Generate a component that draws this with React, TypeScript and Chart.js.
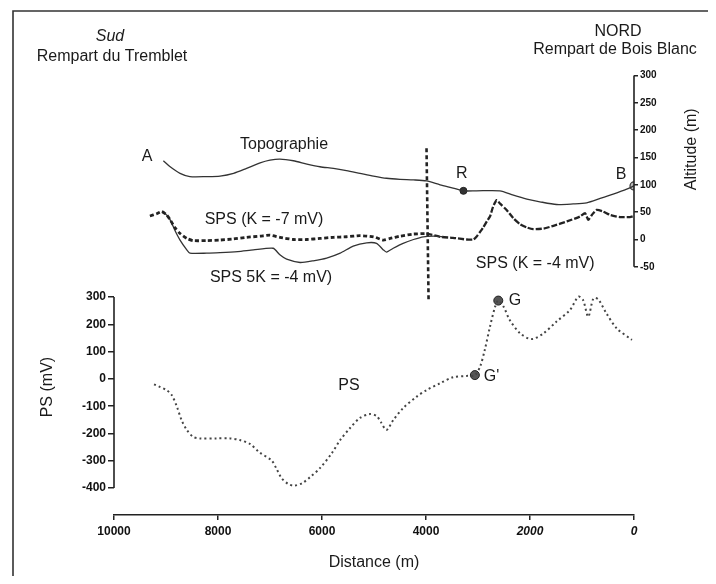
import React, { useEffect, useRef } from "react";
import { Chart, registerables } from "chart.js";

Chart.register(...registerables);

const FONT = "'Liberation Sans', Arial, Helvetica, sans-serif";

// Axis ticks
const xTicks = [10000, 8000, 6000, 4000, 2000, 0];
const psTicks = [300, 200, 100, 0, -100, -200, -300, -400];
const altTicks = [300, 250, 200, 150, 100, 50, 0, -50];

// Topographie (distance m, altitude m)
const topoDist = [9050, 8920, 8730, 8540, 8220, 7960, 7700, 7450, 7190, 7000, 6810, 6550, 6290, 6040, 5780, 5530, 5270, 5010, 4760, 4500, 4240, 3990, 3730, 3480, 3280, 3030, 2580, 2320, 2060, 1810, 1490, 1170, 910, 650, 400, 140, 0];
const topoAlt = [144, 133, 121, 115, 115, 116, 121, 130, 140, 145, 147, 144, 138, 133, 130, 126, 121, 116, 112, 110, 109, 107, 100, 94, 89, 89, 89, 81, 74, 69, 64, 65, 67, 75, 83, 92, 98];

// SPS (K = -7 mV)
const spsK7Dist = [9310, 9180, 9080, 8990, 8920, 8830, 8730, 8600, 8480, 8220, 7960, 7700, 7450, 7190, 7000, 6810, 6550, 6290, 6040, 5780, 5530, 5270, 5010, 4820, 4690, 4500, 4240, 3990];
const spsK7Alt = [43, 47, 51, 45, 36, 22, 11, 2, -2, -2, -1, 1, 4, 6, 8, 4, 0, 0, 2, 4, 5, 7, 5, -1, 2, 6, 10, 11];

// SPS 5K = -4 mV
const sps5KDist = [9080, 8990, 8920, 8830, 8730, 8600, 8540, 8220, 7960, 7620, 7320, 6940, 6810, 6680, 6420, 6170, 5910, 5650, 5400, 5140, 4950, 4820, 4760, 4630, 4440, 4240, 4050, 3860, 3670];
const sps5KAlt = [51, 45, 36, 17, -1, -19, -25, -25, -24, -22, -19, -16, -28, -36, -42, -39, -34, -25, -12, -6, -7, -19, -23, -16, -7, 0, 5, 6, 5];

// SPS (K = -4 mV)
const spsK4Dist = [3990, 3730, 3480, 3220, 3090, 3030, 2960, 2900, 2830, 2770, 2710, 2640, 2580, 2450, 2320, 2190, 2060, 1940, 1740, 1550, 1290, 1040, 940, 880, 810, 720, 590, 460, 270, 80, 0];
const spsK4Alt = [11, 5, 3, 0, 0, 5, 14, 22, 33, 42, 60, 72, 66, 54, 39, 28, 22, 19, 20, 25, 33, 42, 48, 36, 45, 54, 51, 45, 41, 41, 43];

// PS (mV)
const psDist = [9230, 9120, 8990, 8890, 8790, 8700, 8600, 8480, 8350, 8030, 7770, 7580, 7380, 7210, 6970, 6880, 6780, 6650, 6540, 6380, 6230, 6040, 5810, 5650, 5460, 5270, 5080, 4950, 4870, 4760, 4630, 4440, 4180, 3990, 3730, 3480, 3220, 3060, 2960, 2870, 2770, 2670, 2610, 2510, 2390, 2190, 1970, 1740, 1490, 1230, 1070, 980, 880, 780, 690, 530, 330, 40];
const psVal = [-20, -29, -41, -59, -102, -151, -187, -212, -218, -218, -218, -224, -239, -268, -299, -327, -363, -385, -391, -382, -360, -327, -272, -224, -180, -143, -129, -136, -158, -187, -151, -107, -65, -41, -16, 6, 11, 14, 45, 106, 191, 265, 287, 265, 216, 167, 146, 167, 210, 253, 301, 289, 228, 295, 292, 240, 185, 143];

// Vertical dashed divider (altitude axis units)
const dividerDist = [3990, 3950];
const dividerAlt = [167, -114];

// Marked points
const rPoint = [3280, 89];
const bPoint = [0, 98];
const gPoint = [2610, 287];
const gPrimePoint = [3060, 14];

// Text labels anchored on data coordinates
const altLabelText = ["A", "Topographie", "SPS (K = -7 mV)", "SPS 5K = -4 mV)", "R", "B", "SPS (K = -4 mV)"];
const altLabelDist = [9365, 6730, 7115, 6980, 3310, 250, 1900];
const altLabelAlt = [151, 173, 36, -69, 121, 118, -44];
const psLabelText = ["PS", "G", "G'"];
const psLabelDist = [5480, 2290, 2740];
const psLabelVal = [-25, 287, 8];

const pairs = (xs: number[], ys: number[]) => xs.map((x, i) => ({ x, y: ys[i] }));

const decorPlugin = {
  id: "decor",
  beforeDraw(chart: any) {
    const { ctx, width, height } = chart;
    ctx.save();
    ctx.fillStyle = "#ffffff";
    ctx.fillRect(0, 0, width, height);
    ctx.strokeStyle = "#333";
    ctx.lineWidth = 1.6;
    ctx.beginPath();
    ctx.moveTo(5, height);
    ctx.lineTo(5, 3);
    ctx.lineTo(width, 3);
    ctx.stroke();
    ctx.restore();
  },
  afterDraw(chart: any) {
    const { ctx, chartArea, scales } = chart;
    const x = scales.x;
    const yA = scales.yAlt;
    const yP = scales.yPS;
    ctx.save();
    ctx.strokeStyle = "#222";
    ctx.lineWidth = 1.6;
    ctx.beginPath();
    ctx.moveTo(chartArea.left, yP.getPixelForValue(psTicks[0]));
    ctx.lineTo(chartArea.left, yP.getPixelForValue(psTicks[psTicks.length - 1]));
    ctx.moveTo(chartArea.right, yA.getPixelForValue(altTicks[0]));
    ctx.lineTo(chartArea.right, yA.getPixelForValue(altTicks[altTicks.length - 1]));
    ctx.stroke();

    ctx.fillStyle = "#1a1a1a";
    ctx.textAlign = "center";
    ctx.textBaseline = "middle";
    ctx.font = `16px ${FONT}`;
    altLabelText.forEach((t, i) => {
      ctx.fillText(t, x.getPixelForValue(altLabelDist[i]), yA.getPixelForValue(altLabelAlt[i]));
    });
    psLabelText.forEach((t, i) => {
      ctx.fillText(t, x.getPixelForValue(psLabelDist[i]), yP.getPixelForValue(psLabelVal[i]));
    });

    // headers
    ctx.font = `italic 16px ${FONT}`;
    ctx.fillText("Sud", 102, 29);
    ctx.font = `16px ${FONT}`;
    ctx.fillText("Rempart du Tremblet", 104, 49);
    ctx.fillText("NORD", 610, 24);
    ctx.fillText("Rempart de Bois Blanc", 607, 42);

    // rotated axis titles
    ctx.save();
    ctx.translate(chartArea.right + 58, yA.getPixelForValue(165));
    ctx.rotate(-Math.PI / 2);
    ctx.fillText("Altitude (m)", 0, 0);
    ctx.restore();
    ctx.save();
    ctx.translate(chartArea.left - 66, yP.getPixelForValue(-30));
    ctx.rotate(-Math.PI / 2);
    ctx.fillText("PS (mV)", 0, 0);
    ctx.restore();

    ctx.restore();
  },
};

export default function App() {
  const ref = useRef<HTMLCanvasElement | null>(null);

  useEffect(() => {
    if (!ref.current) return;
    const chart = new Chart(ref.current, {
      type: "line",
      data: {
        datasets: [
          {
            label: "Topographie",
            data: pairs(topoDist, topoAlt),
            yAxisID: "yAlt",
            borderColor: "#333",
            borderWidth: 1.3,
            pointRadius: 0,
            tension: 0.25,
            fill: false,
          },
          {
            label: "SPS (K = -7 mV)",
            data: pairs(spsK7Dist, spsK7Alt),
            yAxisID: "yAlt",
            borderColor: "#222",
            borderWidth: 2.8,
            borderDash: [4, 2.5],
            pointRadius: 0,
            tension: 0.2,
            fill: false,
          },
          {
            label: "SPS 5K = -4 mV)",
            data: pairs(sps5KDist, sps5KAlt),
            yAxisID: "yAlt",
            borderColor: "#333",
            borderWidth: 1.3,
            pointRadius: 0,
            tension: 0.2,
            fill: false,
          },
          {
            label: "SPS (K = -4 mV)",
            data: pairs(spsK4Dist, spsK4Alt),
            yAxisID: "yAlt",
            borderColor: "#222",
            borderWidth: 2.3,
            borderDash: [6, 2],
            pointRadius: 0,
            tension: 0.2,
            fill: false,
          },
          {
            label: "PS",
            data: pairs(psDist, psVal),
            yAxisID: "yPS",
            borderColor: "#444",
            borderWidth: 2,
            borderDash: [2, 3],
            pointRadius: 0,
            tension: 0.3,
            fill: false,
          },
          {
            label: "divider",
            data: pairs(dividerDist, dividerAlt),
            yAxisID: "yAlt",
            borderColor: "#222",
            borderWidth: 2.6,
            borderDash: [4, 3],
            pointRadius: 0,
            fill: false,
          },
          {
            label: "R",
            data: [{ x: rPoint[0], y: rPoint[1] }],
            yAxisID: "yAlt",
            showLine: false,
            pointRadius: 3.5,
            pointBackgroundColor: "#333",
            pointBorderColor: "#222",
            pointBorderWidth: 1,
          },
          {
            label: "B",
            data: [{ x: bPoint[0], y: bPoint[1] }],
            yAxisID: "yAlt",
            showLine: false,
            pointRadius: 4,
            pointBackgroundColor: "#bbb",
            pointBorderColor: "#333",
            pointBorderWidth: 1.2,
          },
          {
            label: "G",
            data: [
              { x: gPoint[0], y: gPoint[1] },
              { x: gPrimePoint[0], y: gPrimePoint[1] },
            ],
            yAxisID: "yPS",
            showLine: false,
            pointRadius: 4.5,
            pointBackgroundColor: "#555",
            pointBorderColor: "#222",
            pointBorderWidth: 1,
          },
        ],
      },
      options: {
        responsive: false,
        animation: false,
        events: [],
        layout: { padding: { top: 52, left: 0, right: 0, bottom: 0 } },
        plugins: {
          legend: { display: false },
          tooltip: { enabled: false },
          title: { display: false },
        },
        scales: {
          x: {
            type: "linear",
            position: "bottom",
            reverse: true,
            min: 0,
            max: 10000,
            afterBuildTicks: (s: any) => {
              s.ticks = xTicks.map((v) => ({ value: v }));
            },
            afterFit: (s: any) => {
              s.height = 61;
            },
            grid: { drawOnChartArea: false, drawTicks: true, tickLength: 5, color: "#222", lineWidth: 1.5 },
            border: { display: true, color: "#222", width: 1.6 },
            ticks: {
              padding: 4,
              color: "#111",
              maxRotation: 0,
              autoSkip: false,
              callback: (v: any) => String(v),
              font: (c: any) => ({
                family: FONT,
                size: 12,
                weight: "bold",
                style: c.tick && c.tick.value <= 2000 ? "italic" : "normal",
              }),
            },
            title: {
              display: true,
              text: "Distance (m)",
              color: "#1a1a1a",
              font: { family: FONT, size: 16 },
              padding: { top: 0, bottom: 4 },
            },
          },
          yPS: {
            type: "linear",
            position: "left",
            min: -498.7,
            max: 1168.6,
            afterBuildTicks: (s: any) => {
              s.ticks = psTicks.map((v) => ({ value: v }));
            },
            afterFit: (s: any) => {
              s.width = 106;
            },
            grid: { drawOnChartArea: false, drawTicks: true, tickLength: 6, color: "#222", lineWidth: 1.5 },
            border: { display: false },
            ticks: {
              padding: 2,
              color: "#111",
              autoSkip: false,
              callback: (v: any) => String(v),
              font: { family: FONT, size: 12, weight: "bold" },
            },
          },
          yAlt: {
            type: "linear",
            position: "right",
            min: -503.7,
            max: 328.2,
            afterBuildTicks: (s: any) => {
              s.ticks = altTicks.map((v) => ({ value: v }));
            },
            afterFit: (s: any) => {
              s.width = 74;
            },
            grid: { drawOnChartArea: false, drawTicks: true, tickLength: 4, color: "#222", lineWidth: 1.5 },
            border: { display: false },
            ticks: {
              padding: 2,
              color: "#111",
              autoSkip: false,
              callback: (v: any) => String(v),
              font: { family: FONT, size: 10, weight: "bold" },
            },
          },
        },
      },
      plugins: [decorPlugin],
    } as any);
    return () => chart.destroy();
  }, []);

  return (
    <canvas
      ref={ref}
      width={700}
      height={568}
      style={{ display: "block", width: "700px", height: "568px" }}
    />
  );
}
